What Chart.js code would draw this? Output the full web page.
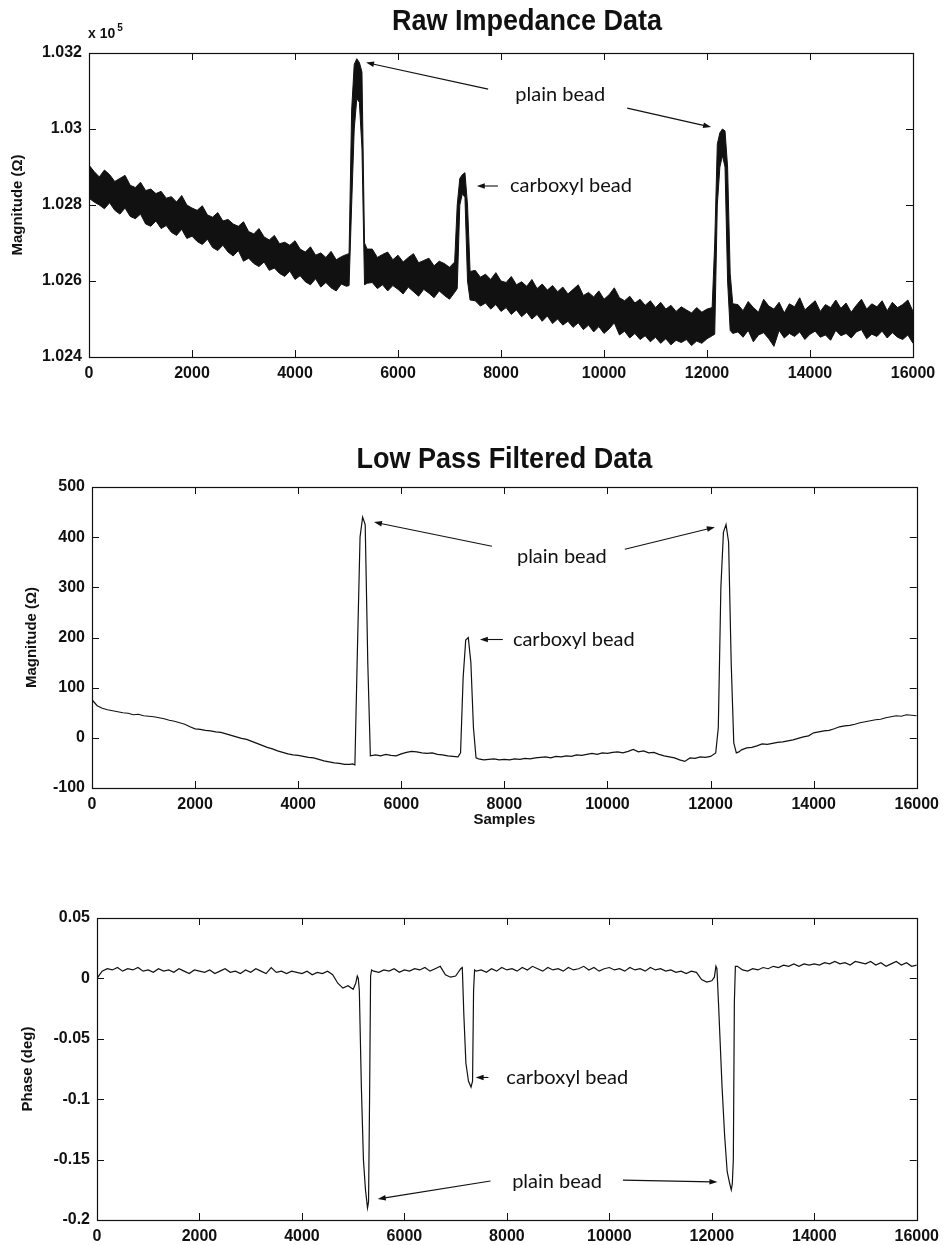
<!DOCTYPE html>
<html><head><meta charset="utf-8">
<script src="https://cdn.jsdelivr.net/npm/chart.js@4.4.1/dist/chart.umd.min.js"></script>
<style>
html,body{margin:0;padding:0;background:#fff;}
#wrap{position:relative;width:946px;height:1245px;overflow:hidden;background:#fff;}
canvas{position:absolute;left:0;}
</style></head><body>
<div id="wrap">
<canvas id="c1" width="946" height="400" style="top:0px"></canvas>
<canvas id="c2" width="946" height="400" style="top:430px"></canvas>
<canvas id="c3" width="946" height="385" style="top:860px"></canvas>
</div>
<script>
// ---------------- DATA ----------------
const sampleStep = 100;            // grid spacing of the arrays below (samples)
const xTicks = [0,2000,4000,6000,8000,10000,12000,14000,16000];

// Raw impedance (Ohm): upper / lower edge of the noisy band
const rawUpper = [
102905,102888,102874,102892,102880,102862,102870,102878,102852,102846,
102860,102838,102842,102830,102836,102818,102822,102808,102825,102800,
102792,102786,102798,102774,102768,102780,102758,102762,102750,102744,
102756,102730,102724,102738,102716,102708,102720,102698,102702,102694,
102706,102684,102676,102690,102668,102674,102662,102678,102656,102664,
102670,103050,103185,103150,102684,102684,102662,102670,102676,102656,
102668,102650,102662,102672,102648,102654,102660,102640,102652,102646,
102636,102650,102870,102885,102625,102628,102610,102618,102604,102622,
102600,102596,102612,102590,102598,102586,102604,102580,102592,102576,
102588,102572,102584,102566,102578,102590,102562,102570,102558,102574,
102552,102564,102582,102556,102548,102560,102542,102552,102536,102548,
102530,102544,102526,102536,102520,102532,102524,102516,102530,102518,
102526,102530,102960,103000,102900,102540,102538,102522,102546,102530,
102518,102552,102534,102526,102544,102516,102540,102532,102556,102524,
102536,102548,102520,102538,102530,102550,102528,102542,102518,102536,
102552,102526,102540,102532,102548,102522,102544,102530,102538,102550,
102520];
const rawLower = [
102818,102808,102800,102790,102806,102786,102776,102792,102770,102764,
102776,102750,102744,102758,102738,102746,102728,102720,102736,102712,
102718,102704,102696,102710,102688,102680,102694,102676,102666,102680,
102652,102660,102646,102638,102650,102628,102634,102620,102612,102626,
102604,102614,102598,102590,102606,102584,102596,102582,102574,102592,
102586,102800,103080,102950,102594,102596,102580,102590,102574,102588,
102578,102566,102584,102572,102560,102578,102568,102556,102574,102562,
102552,102570,102800,102820,102550,102548,102534,102542,102526,102538,
102520,102530,102512,102524,102506,102518,102500,102512,102494,102508,
102488,102500,102484,102494,102478,102490,102472,102484,102466,102480,
102462,102474,102490,102458,102468,102450,102462,102446,102456,102440,
102452,102436,102448,102432,102444,102438,102446,102430,102442,102436,
102448,102456,102800,102930,102600,102462,102466,102452,102470,102440,
102458,102464,102448,102428,102470,102450,102462,102454,102466,102446,
102460,102468,102452,102458,102444,102470,102456,102462,102450,102466,
102472,102448,102460,102454,102468,102450,102464,102452,102446,102458,
102436];
const rawDetailX     = [5050,5150,5250,5350,7150,7250,7350,12150,12250,12350,12450];
const rawDetailUpper = [102672,103170,103175,102700,102800,102880,102800,102700,102990,102995,102620];
const rawDetailLower = [102588,103000,103070,102590,102580,102830,102600,102460,102900,102900,102470];

// Low pass filtered magnitude (Ohm)
const filtered = [
76,64,59,56,54,52,50,49,46,47,
44,43,42,40,38,35,33,30,27,22,
18,17,15,14,12,11,8,5,2,-1,
-3,-7,-11,-15,-19,-22,-26,-29,-32,-34,
-35,-37,-39,-40,-43,-46,-48,-50,-51,-53,
-53,-54,400,425,-36,-34,-36,-33,-35,-36,
-32,-29,-27,-28,-30,-31,-30,-33,-34,-36,
-37,-38,120,200,20,-42,-44,-43,-42,-44,
-43,-44,-42,-43,-41,-42,-40,-39,-38,-40,
-37,-38,-36,-37,-34,-35,-33,-31,-33,-30,
-31,-29,-28,-30,-27,-23,-28,-26,-30,-29,
-33,-36,-38,-40,-44,-47,-40,-41,-38,-39,
-37,-30,300,425,150,-30,-24,-20,-19,-16,
-12,-13,-11,-9,-8,-6,-4,-1,2,4,
10,12,14,15,18,22,24,25,27,30,
32,34,36,37,40,42,44,43,46,45,
44];
const filtDetailX = [5050,5150,5250,5350,7150,7250,7350,7450,12150,12250,12350,12450,12550];
const filtDetailY = [-52,180,440,150,-30,195,150,-40,20,410,390,-10,-28];

// Phase (deg)
const phase = [
0.000,0.006,0.008,0.007,0.009,0.006,0.008,0.007,0.009,0.006,
0.007,0.005,0.008,0.006,0.007,0.005,0.008,0.006,0.004,0.007,
0.006,0.005,0.007,0.004,0.006,0.008,0.005,0.006,0.004,0.007,
0.005,0.008,0.006,0.004,0.009,0.005,0.006,0.004,0.006,0.005,
0.004,0.006,0.003,0.005,0.004,0.006,0.003,-0.004,-0.008,-0.006,
-0.009,0.000,-0.150,-0.185,0.006,0.005,0.007,0.006,0.008,0.005,
0.007,0.006,0.008,0.007,0.009,0.006,0.008,0.010,0.003,0.001,
0.002,0.008,-0.070,-0.090,0.006,0.007,0.005,0.008,0.006,0.009,
0.007,0.008,0.006,0.009,0.007,0.010,0.008,0.006,0.009,0.007,
0.008,0.006,0.009,0.007,0.008,0.010,0.007,0.009,0.006,0.008,
0.009,0.007,0.008,0.006,0.009,0.007,0.008,0.006,0.009,0.007,
0.008,0.006,0.007,0.005,0.006,0.004,0.006,0.005,-0.001,-0.003,
-0.002,0.008,-0.090,-0.160,-0.170,0.010,0.007,0.006,0.008,0.007,
0.009,0.008,0.010,0.009,0.011,0.010,0.012,0.010,0.012,0.011,
0.012,0.011,0.013,0.012,0.014,0.012,0.013,0.011,0.014,0.013,
0.012,0.014,0.011,0.013,0.010,0.012,0.014,0.011,0.013,0.010,
0.011];
const phaseDetailX = [5050,5080,5120,5160,5240,5280,5320,5340,5360,7130,7160,7250,7330,7350,7370,12050,12080,12130,12250,12350,12380,12420,12440,12460];
const phaseDetailY = [-0.004,0.002,-0.010,-0.090,-0.175,-0.190,-0.100,0.002,0.007,0.009,-0.030,-0.085,-0.085,-0.010,0.007,0.001,0.010,-0.020,-0.130,-0.170,-0.175,-0.150,-0.020,0.010];

// Annotations (data coordinates)
const rawNotes = {
  labels: [{text:'plain bead', x:9150, y:103090, align:'center'},
           {text:'carboxyl bead', x:8175, y:102850, align:'left'}],
  arrows: [{from:[7750,103105], to:[5380,103175]},
           {from:[10450,103055], to:[12080,103005]},
           {from:[7940,102850], to:[7530,102850]}]
};
const filtNotes = {
  labels: [{text:'plain bead', x:9115, y:362, align:'center'},
           {text:'carboxyl bead', x:8165, y:196, align:'left'}],
  arrows: [{from:[7758,382], to:[5470,430]},
           {from:[10337,376], to:[12083,420]},
           {from:[7970,196], to:[7525,196]}]
};
const phaseNotes = {
  labels: [{text:'plain bead', x:8980, y:-0.1685, align:'center'},
           {text:'carboxyl bead', x:7990, y:-0.082, align:'left'}],
  arrows: [{from:[7680,-0.1677], to:[5480,-0.1826]},
           {from:[10265,-0.167], to:[12110,-0.1685]},
           {from:[7640,-0.082], to:[7390,-0.082]}]
};

// ---------------- helpers ----------------
function series(vals, dx, dv) {
  const pts = vals.map((v, i) => ({x: i * sampleStep, y: v}));
  dx.forEach((x, i) => pts.push({x: x, y: dv[i]}));
  pts.sort((a, b) => a.x - b.x);
  return pts;
}

const INK = '#111';
const SANS = '"Liberation Sans", Arial, sans-serif';
Chart.defaults.font.family = SANS;
Chart.defaults.color = INK;

const framePlugin = {
  id: 'frame',
  afterDatasetsDraw(chart) {
    const {ctx, chartArea: a, scales: {x, y}} = chart;
    const len = 7;
    ctx.save();
    ctx.strokeStyle = INK; ctx.lineWidth = 1;
    ctx.beginPath();
    x.ticks.forEach(t => {
      const px = Math.round(x.getPixelForValue(t.value)) + 0.5;
      ctx.moveTo(px, a.bottom); ctx.lineTo(px, a.bottom - len);
      ctx.moveTo(px, a.top); ctx.lineTo(px, a.top + len);
    });
    y.ticks.forEach(t => {
      const py = Math.round(y.getPixelForValue(t.value)) + 0.5;
      ctx.moveTo(a.left, py); ctx.lineTo(a.left + len, py);
      ctx.moveTo(a.right, py); ctx.lineTo(a.right - len, py);
    });
    ctx.stroke();
    ctx.lineWidth = 1.2;
    ctx.strokeRect(Math.round(a.left) + 0.5, Math.round(a.top) + 0.5,
                   Math.round(a.right - a.left), Math.round(a.bottom - a.top));
    ctx.restore();
  }
};

function notesPlugin(notes, extra) {
  return {
    id: 'notes',
    afterDraw(chart) {
      const {ctx, chartArea: a, scales: {x, y}} = chart;
      ctx.save();
      ctx.fillStyle = INK; ctx.strokeStyle = INK;
      if (extra.title) {
        ctx.save();
        ctx.font = 'bold 30px ' + SANS;
        ctx.textAlign = 'center'; ctx.textBaseline = 'middle';
        const cx = (a.left + a.right) / 2 + (extra.titleShift || 0);
        ctx.translate(cx, a.top - (extra.titleRise || 27));
        ctx.scale(0.9, 1);
        ctx.fillText(extra.title, 0, 0);
        ctx.restore();
      }
      if (extra.exponent) {
        ctx.font = 'bold 14px ' + SANS;
        ctx.textAlign = 'left'; ctx.textBaseline = 'alphabetic';
        const base = 'x 10';
        ctx.fillText(base, a.left - 1, a.top - 15);
        const w = ctx.measureText(base).width;
        ctx.font = 'bold 10px ' + SANS;
        ctx.fillText(extra.exponent, a.left + w + 1, a.top - 22);
      }
      notes.arrows.forEach(ar => {
        const x0 = x.getPixelForValue(ar.from[0]), y0 = y.getPixelForValue(ar.from[1]);
        const x1 = x.getPixelForValue(ar.to[0]),   y1 = y.getPixelForValue(ar.to[1]);
        const ang = Math.atan2(y1 - y0, x1 - x0);
        const hl = 8, hw = 2.8;
        const c = Math.cos(ang), s = Math.sin(ang);
        ctx.lineWidth = 1.1;
        ctx.beginPath(); ctx.moveTo(x0, y0); ctx.lineTo(x1 - c * hl * 0.7, y1 - s * hl * 0.7); ctx.stroke();
        ctx.beginPath();
        ctx.moveTo(x1, y1);
        ctx.lineTo(x1 - hl * c + hw * s, y1 - hl * s - hw * c);
        ctx.lineTo(x1 - hl * c - hw * s, y1 - hl * s + hw * c);
        ctx.closePath(); ctx.fill();
      });
      ctx.font = '20px Lato, "Open Sans", sans-serif';
      ctx.textBaseline = 'middle';
      notes.labels.forEach(l => {
        ctx.textAlign = l.align;
        ctx.fillText(l.text, x.getPixelForValue(l.x), y.getPixelForValue(l.y));
      });
      ctx.restore();
    }
  };
}

const tickFont = {size: 16, weight: 'bold', family: SANS};
const axisTitleFont = {size: 15, weight: 'bold', family: SANS};

function makeChart(id, cfg) {
  const b = cfg.box;
  return new Chart(document.getElementById(id), {
    type: 'line',
    data: {datasets: cfg.datasets},
    options: {
      responsive: false, animation: false, devicePixelRatio: 1,
      events: [],
      layout: {padding: {top: b.top, right: 946 - b.right, left: 0, bottom: 0}},
      plugins: {legend: {display: false}, tooltip: {enabled: false}, title: {display: false}},
      elements: {point: {radius: 0}, line: {tension: 0}},
      scales: {
        x: {
          type: 'linear', min: 0, max: 16000,
          afterFit: s => { s.height = b.canvasH - b.bottom; },
          afterBuildTicks: s => { s.ticks = xTicks.map(v => ({value: v})); },
          ticks: {autoSkip: false, maxRotation: 0, padding: 7, font: tickFont, color: INK,
                  callback: v => String(v)},
          grid: {display: false, drawTicks: false},
          border: {display: false},
          title: cfg.xTitle || {display: false}
        },
        y: {
          type: 'linear', min: cfg.yMin, max: cfg.yMax,
          afterFit: s => { s.width = b.left; },
          afterBuildTicks: s => { s.ticks = cfg.yTicks.map(v => ({value: v})); },
          ticks: {autoSkip: false, padding: 7, font: tickFont, color: INK, callback: cfg.yFmt},
          grid: {display: false, drawTicks: false},
          border: {display: false},
          title: {display: true, text: cfg.yTitle, font: axisTitleFont, color: INK,
                  padding: {top: cfg.yTitlePad, bottom: 0}}
        }
      }
    },
    plugins: [framePlugin, notesPlugin(cfg.notes, cfg.extra)]
  });
}

// ---------------- charts ----------------
const rawYTicks = [102400, 102600, 102800, 103000, 103200];
const filtYTicks = [-100, 0, 100, 200, 300, 400, 500];
const phaseYTicks = [-0.2, -0.15, -0.1, -0.05, 0, 0.05];

makeChart('c1', {
  box: {left: 89, right: 913, top: 53, bottom: 357, canvasH: 400},
  yMin: 102400, yMax: 103200, yTicks: rawYTicks,
  yFmt: v => parseFloat((v / 1e5).toFixed(3)).toString(),
  yTitle: 'Magnitude (\u03A9)', yTitlePad: 9,
  notes: rawNotes, extra: {title: 'Raw Impedance Data', exponent: '5', titleShift: 26, titleRise: 31},
  datasets: [
    {data: series(rawUpper, rawDetailX, rawDetailUpper), borderColor: INK, borderWidth: 1,
     backgroundColor: INK, fill: '+1'},
    {data: series(rawLower, rawDetailX, rawDetailLower), borderColor: INK, borderWidth: 1,
     backgroundColor: INK, fill: false}
  ]
});

makeChart('c2', {
  box: {left: 92, right: 917, top: 57, bottom: 358, canvasH: 400},
  yMin: -100, yMax: 500, yTicks: filtYTicks,
  yFmt: v => String(v),
  yTitle: 'Magnitude (\u03A9)', yTitlePad: 23,
  xTitle: {display: true, text: 'Samples', font: axisTitleFont, color: INK, padding: {top: 0, bottom: 1}},
  notes: filtNotes, extra: {title: 'Low Pass Filtered Data', titleRise: 27},
  datasets: [
    {data: series(filtered, filtDetailX, filtDetailY), borderColor: INK, borderWidth: 1.2, fill: false}
  ]
});

makeChart('c3', {
  box: {left: 97, right: 920, top: 58, bottom: 360, canvasH: 385},
  yMin: -0.2, yMax: 0.05, yTicks: phaseYTicks,
  yFmt: v => parseFloat(v.toFixed(2)).toString(),
  yTitle: 'Phase (deg)', yTitlePad: 19,
  notes: phaseNotes, extra: {},
  datasets: [
    {data: series(phase, phaseDetailX, phaseDetailY), borderColor: INK, borderWidth: 1.2, fill: false}
  ]
});
</script>
</body></html>
